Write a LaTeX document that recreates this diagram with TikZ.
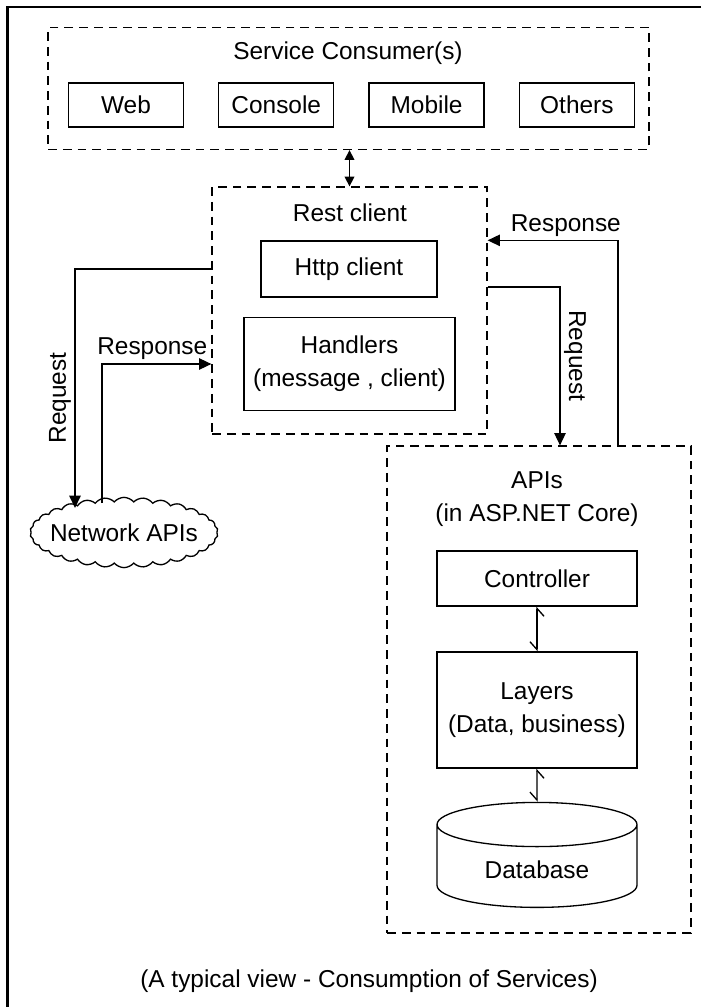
\documentclass[tikz,border=0pt]{standalone}
\usepackage{fontspec}
\setmainfont{Liberation Sans}
\usetikzlibrary{arrows.meta, shapes.geometric, shapes.symbols, positioning}

\begin{document}
\begin{tikzpicture}[
      x=0.02cm, y=-0.02cm,
      font=\fontsize{13.9pt}{18.7pt}\selectfont,
      box/.style={draw, line width=0.75pt, align=center, inner sep=2pt},
      cbox/.style={box, minimum width=2.3cm, minimum height=0.88cm},
      group/.style={draw, line width=0.75pt, dash pattern=on 5pt off 3.4pt},
      arr/.style={-{Triangle[length=7pt, width=6.5pt]}, line width=0.75pt},
      dbl/.style={{Triangle[length=5.5pt, width=5.5pt]}-{Triangle[length=5.5pt, width=5.5pt]}, line width=0.75pt},
      barb/.style={{Straight Barb[right, length=4.5pt, width=8pt]}-{Straight Barb[right, length=4.5pt, width=8pt]}, line width=0.75pt},
      lbl/.style={inner sep=2pt}
    ]
    \useasboundingbox (0,0) rectangle (701,1007);
    \draw[line width=1.7pt] (701,7) -- (7.5,7) -- (7.5,1007);

    % consumers
    \node[group, minimum width=12.02cm, minimum height=2.44cm] (cons) at (348.5,88.5) {};
    \node (constitle) at (348,53) {Service Consumer(s)};
    \node[cbox] (web) at (126,105) {Web};
    \node[cbox, right=0.68cm of web] (console) {Console};
    \node[cbox, right=0.68cm of console] (mobile) {Mobile};
    \node[cbox, right=0.68cm of mobile] (others) {Others};

    % rest client
    \node[group, minimum width=5.5cm, minimum height=4.94cm] (rest) at (349.5,310.5) {};
    \node (resttitle) at (350,213) {Rest client};
    \node[box, minimum width=3.52cm, minimum height=1.12cm] (http) at (349,269) {Http client};
    \node[box, minimum width=4.22cm, minimum height=1.86cm] (hand) at (349.5,364) {Handlers\\(message , client)};

    % apis
    \node[group, minimum width=6.08cm, minimum height=9.74cm] (apis) at (539,689.5) {};
    \node[align=center] (apititle) at (537,499.5) {APIs\\(in ASP.NET Core)};
    \node[box, minimum width=4cm, minimum height=1.1cm] (ctrl) at (537,578.5) {Controller};
    \node[box, minimum width=4cm, minimum height=2.32cm] (layers) at (537,710) {Layers\\(Data, business)};
    \node[cylinder, draw, line width=0.75pt, shape border rotate=90, aspect=0.38,
          minimum width=4cm, minimum height=2.1cm] (db) at (537,870) {Database};

    % network
    \node[cloud, draw, line width=0.75pt, cloud puffs=30, cloud puff arc=100, aspect=2.9,
          inner xsep=-6pt, inner ysep=-2pt, minimum width=3.76cm, minimum height=1.18cm] (net) at (124,532.5) {Network APIs};
    \coordinate (netin) at (75,508);
    \coordinate (netout) at (102,503);

    \node (caption) at (369,981) {(A typical view - Consumption of Services)};

    \draw[dbl] (cons.south -| rest.north) -- (rest.north);
    \draw[arr] (rest.west |- http) -| (netin)
      node[pos=0.77, rotate=90, anchor=south, lbl] (lreq) {Request};
    \draw[arr] (netout) |- (rest.west |- hand)
      node[pos=0.73, above, lbl] (lresp) {Response};
    \draw[arr] ([yshift=0.47cm]rest.east) -| ([xshift=0.42cm]apis.north)
      node[pos=0.717, rotate=-90, anchor=south, lbl] (rreq) {Request};
    \draw[arr] ([xshift=1.58cm]apis.north) |- (rest.east |- http.north)
      node[pos=0.7, above, lbl] (rresp) {Response};
    \draw[barb] (ctrl.south) -- (layers.north);
    \draw[barb] (layers.south) -- (db.north);
  \end{tikzpicture}
\end{document}
